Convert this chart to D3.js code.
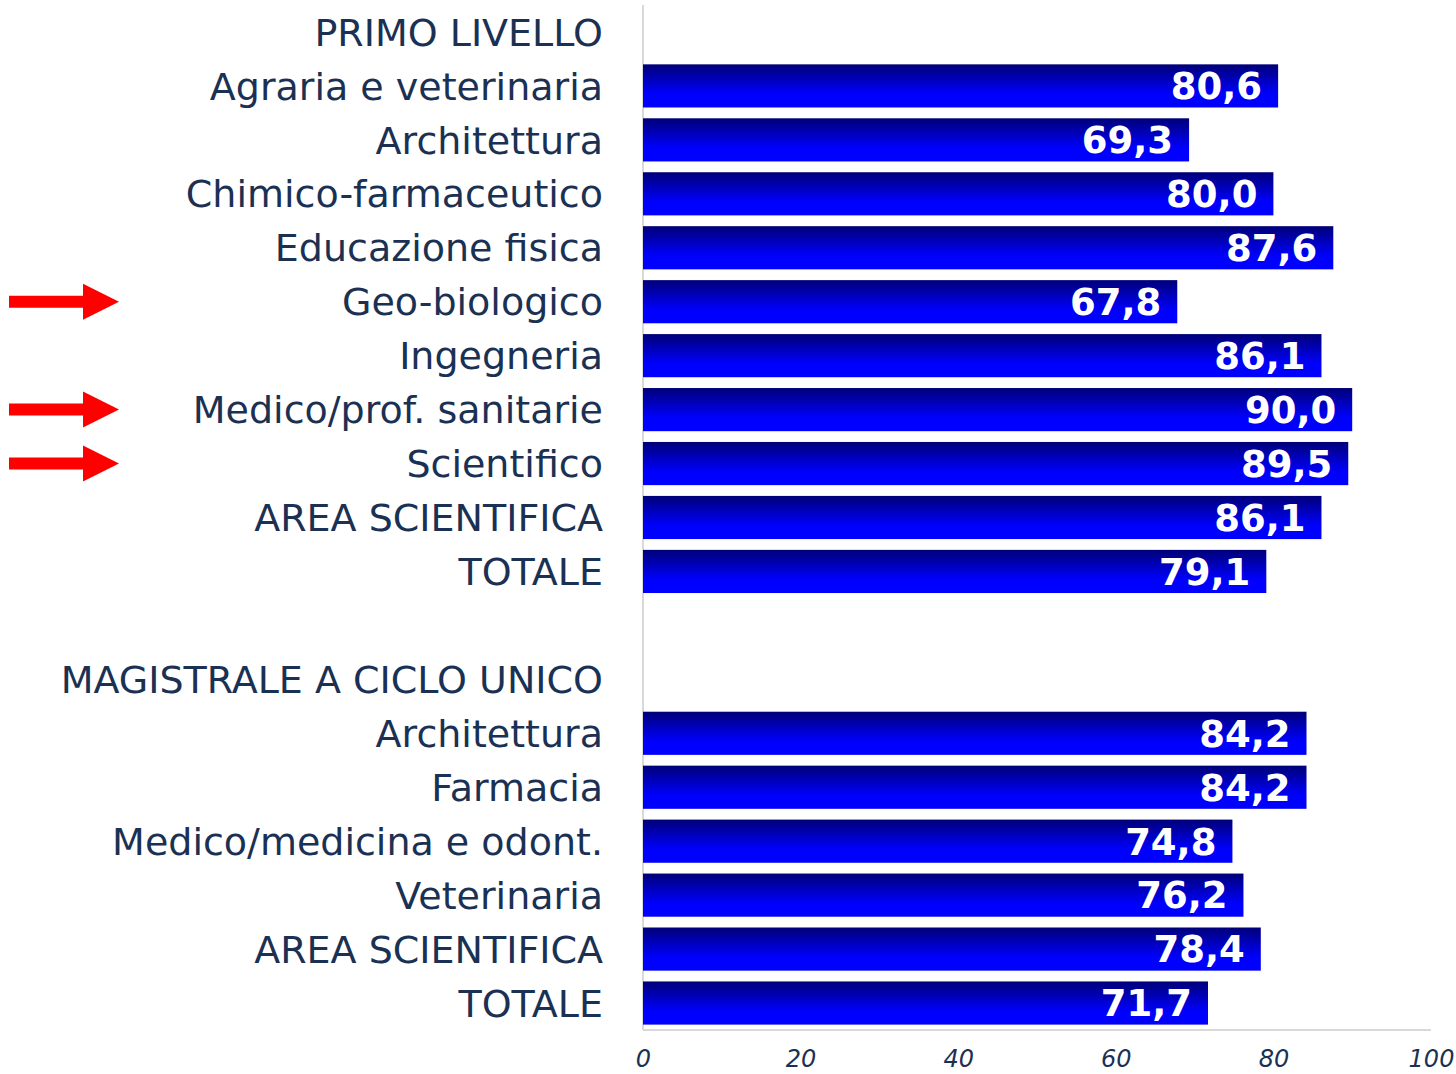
<!DOCTYPE html>
<html>
<head>
<meta charset="utf-8">
<script src="https://cdn.jsdelivr.net/npm/d3@7"></script>
<style>
  body { margin: 0; background: #fff; }
  text { font-family: "DejaVu Sans", sans-serif; }
</style>
</head>
<body>
<svg id="chart" width="1456" height="1074"></svg>
<script>
// rows of the chart, top to bottom (headers and a spacer have no value)
var rowLabels = ["PRIMO LIVELLO", "Agraria e veterinaria", "Architettura", "Chimico-farmaceutico",
    "Educazione fisica", "Geo-biologico", "Ingegneria", "Medico/prof. sanitarie", "Scientifico",
    "AREA SCIENTIFICA", "TOTALE", "", "MAGISTRALE A CICLO UNICO", "Architettura", "Farmacia",
    "Medico/medicina e odont.", "Veterinaria", "AREA SCIENTIFICA", "TOTALE"];
var rowValues = [null, 80.6, 69.3, 80.0, 87.6, 67.8, 86.1, 90.0, 89.5, 86.1, 79.1,
    null, null, 84.2, 84.2, 74.8, 76.2, 78.4, 71.7];
var arrowRows = [5, 7, 8]; // Geo-biologico, Medico/prof. sanitarie, Scientifico
var xTicks = [0, 20, 40, 60, 80, 100];

var svg = d3.select("#chart");
var margin = {top: 5, left: 643, right: 25, bottom: 44};
var width = 1456 - margin.left - margin.right;
var height = 1074 - margin.top - margin.bottom;

var rows = rowLabels.map(function (d, i) { return {i: i, label: d, value: rowValues[i]}; });

var xScale = d3.scaleLinear().domain([0, 100]).range([0, width]);
var yScale = d3.scaleBand().domain(d3.range(rows.length)).range([0, height]).paddingInner(0.2).paddingOuter(0.1);

// vertical gradient of the bars
var grad = svg.append("defs").append("linearGradient")
    .attr("id", "barGrad").attr("x1", 0).attr("y1", 0).attr("x2", 0).attr("y2", 1);
grad.append("stop").attr("offset", "0%").attr("stop-color", "#000078");
grad.append("stop").attr("offset", "70%").attr("stop-color", "#0000ff");
grad.append("stop").attr("offset", "100%").attr("stop-color", "#0000ff");

var g = svg.append("g").attr("transform", "translate(" + margin.left + "," + margin.top + ")");

// axis lines
g.append("line").attr("x1", 0).attr("x2", 0).attr("y1", 0).attr("y2", height)
    .attr("stroke", "#d9d9d9").attr("stroke-width", 2);
g.append("line").attr("x1", 0).attr("x2", width).attr("y1", height).attr("y2", height)
    .attr("stroke", "#d9d9d9").attr("stroke-width", 2);

// x axis tick labels
var xAxis = g.append("g").attr("transform", "translate(0," + height + ")")
    .call(d3.axisBottom(xScale).tickValues(xTicks).tickSize(0).tickPadding(20));
xAxis.select(".domain").remove();
xAxis.selectAll("text")
    .attr("font-family", "DejaVu Sans Condensed, DejaVu Sans, sans-serif")
    .attr("font-size", 24).attr("font-style", "italic").attr("fill", "#1b3153");

var barRows = rows.filter(function (d) { return d.value !== null; });

g.selectAll(".bar").data(barRows).enter().append("rect")
    .attr("class", "bar")
    .attr("x", 0)
    .attr("y", function (d) { return yScale(d.i); })
    .attr("width", function (d) { return xScale(d.value); })
    .attr("height", yScale.bandwidth())
    .attr("fill", "url(#barGrad)");

g.selectAll(".val").data(barRows).enter().append("text")
    .attr("class", "val")
    .attr("x", function (d) { return xScale(d.value) - 16; })
    .attr("y", function (d) { return yScale(d.i) + yScale.bandwidth() / 2; })
    .attr("dy", "0.36em")
    .attr("text-anchor", "end")
    .attr("font-size", 37).attr("font-weight", "bold").attr("fill", "#fff")
    .text(function (d) { return d.value.toFixed(1).replace(".", ","); });

// category labels
g.selectAll(".lab").data(rows).enter().append("text")
    .attr("class", "lab")
    .attr("x", -40)
    .attr("y", function (d) { return yScale(d.i) + yScale.bandwidth() / 2; })
    .attr("dy", "0.36em")
    .attr("text-anchor", "end")
    .attr("font-family", "DejaVu Sans Condensed, DejaVu Sans, sans-serif")
    .attr("font-size", 38).attr("fill", "#1b3153")
    .text(function (d) { return d.label; });

// red arrows
var arrow = d3.line();
svg.selectAll(".arrow").data(arrowRows).enter().append("path")
    .attr("class", "arrow")
    .attr("fill", "#ff0000")
    .attr("d", function (i) {
        var cy = margin.top + yScale(i) + yScale.bandwidth() / 2;
        return arrow([[9, cy - 6], [83, cy - 6], [83, cy - 18], [119, cy], [83, cy + 18],
            [83, cy + 6], [9, cy + 6]]) + "Z";
    });
</script>
</body>
</html>
